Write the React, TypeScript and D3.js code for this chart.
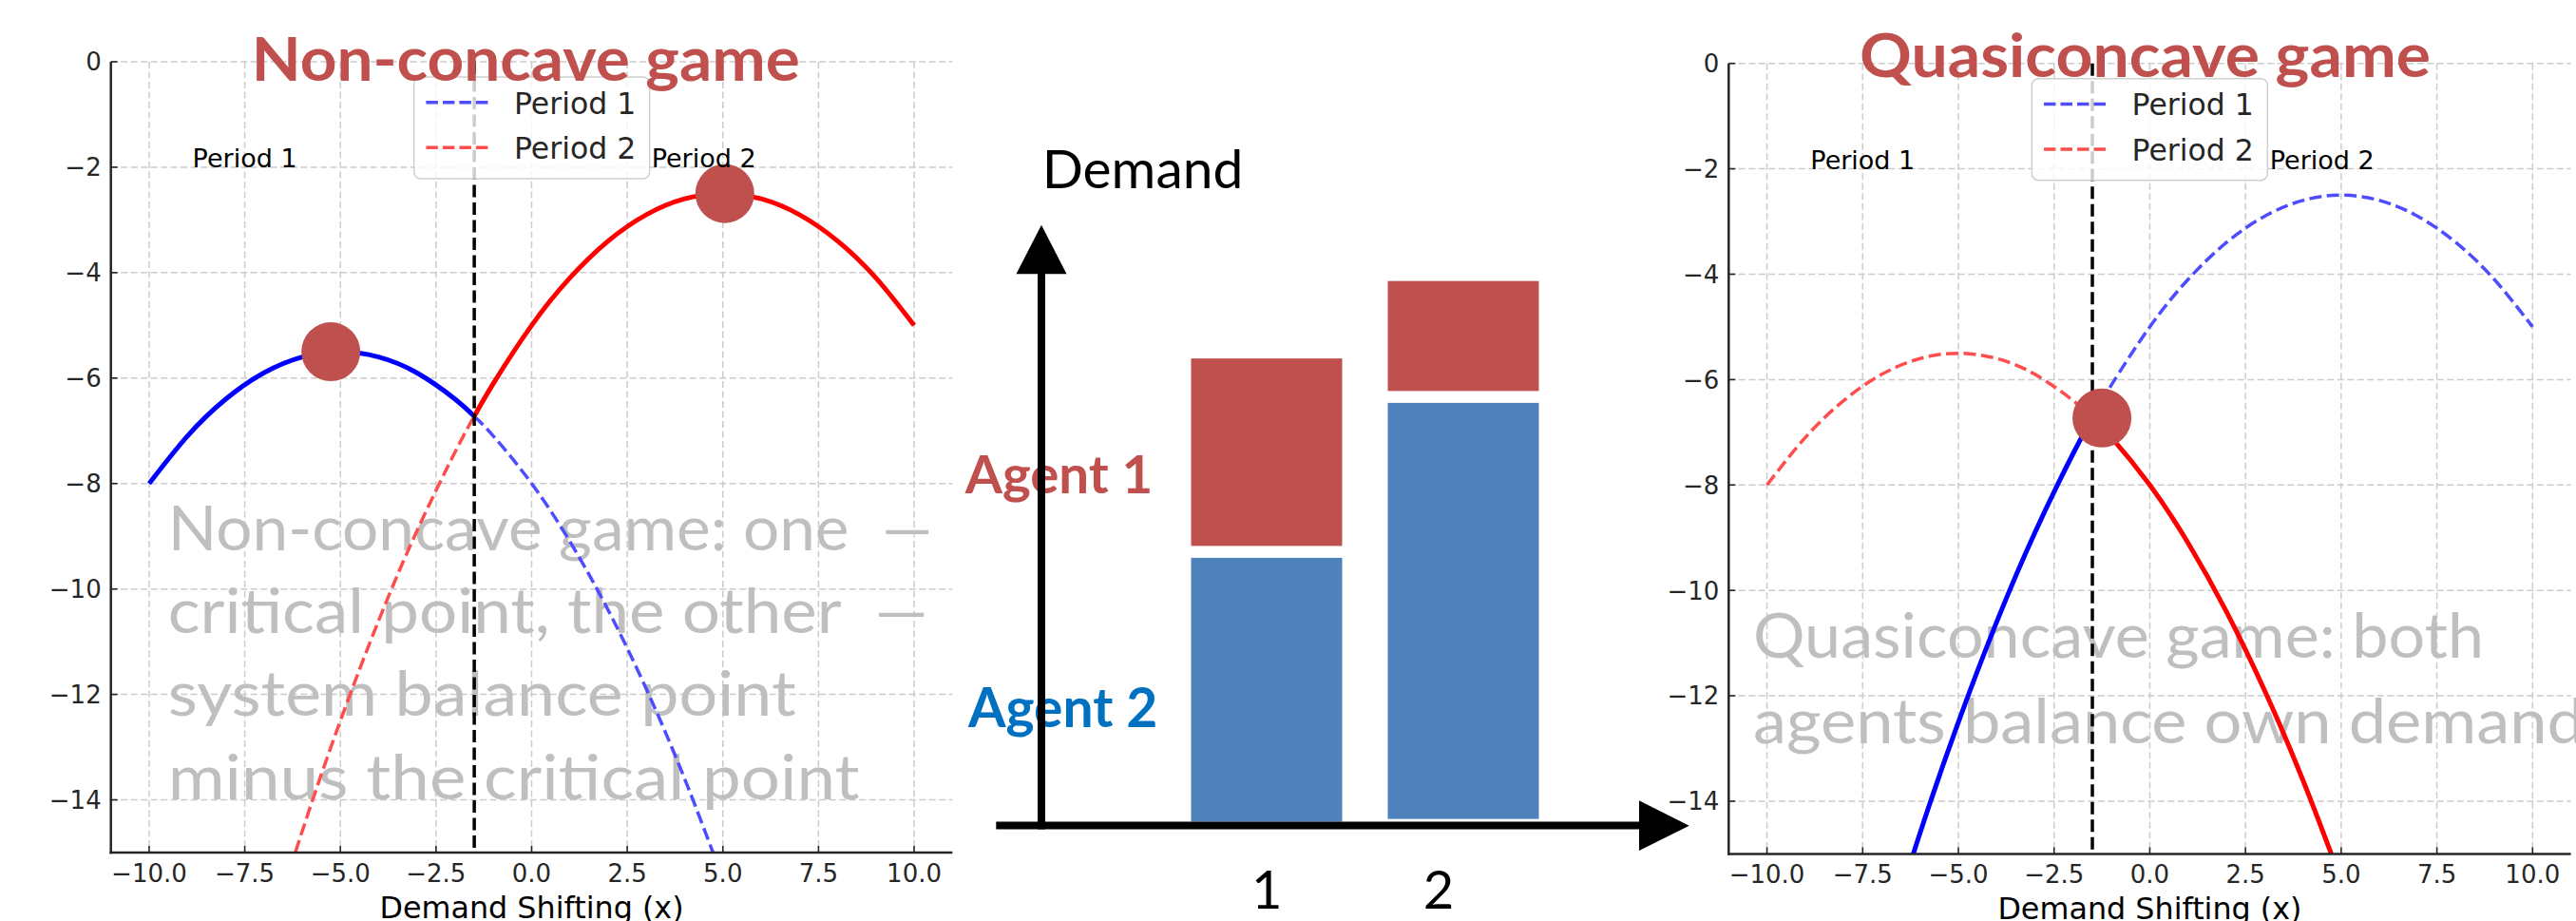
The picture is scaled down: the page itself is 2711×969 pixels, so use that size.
import React from "react";
import * as d3 from "d3";

// ---------- data ----------
const xTicks = [-10, -7.5, -5, -2.5, 0, 2.5, 5, 7.5, 10];
const xTickLabels = ["−10.0", "−7.5", "−5.0", "−2.5", "0.0", "2.5", "5.0", "7.5", "10.0"];
const yTicks = [0, -2, -4, -6, -8, -10, -12, -14];
const yTickLabels = ["0", "−2", "−4", "−6", "−8", "−10", "−12", "−14"];
const xDomain = [-11, 11];
const yDomain = [-15, 0];

// curve A: peak (-5, -5.5); curve B: peak (5, -2.5)
const curveAX = [-10, -9, -8, -7, -6, -5, -4, -3, -2, -1.5, -1, 0, 1, 2, 3, 4, 5];
const curveAY = [-8.0, -7.1, -6.4, -5.9, -5.6, -5.5, -5.6, -5.9, -6.4, -6.725, -7.1, -8.0, -9.1, -10.4, -11.9, -13.6, -15.5];
const curveBX = [-7, -6, -5, -4, -3, -2, -1.5, -1, 0, 1, 2, 3, 4, 5, 6, 7, 8, 9, 10];
const curveBY = [-16.9, -14.6, -12.5, -10.6, -8.9, -7.4, -6.725, -6.1, -5.0, -4.1, -3.4, -2.9, -2.6, -2.5, -2.6, -2.9, -3.4, -4.1, -5.0];
const splitX = -1.5;

const leftDotsX = [-5.25, 5.05];
const leftDotsY = [-5.5, -2.5];
const rightDotsX = [-1.25];
const rightDotsY = [-6.73];

const periodLabels = ["Period 1", "Period 2"];
const periodLabelX = [-7.5, 4.5];
const periodLabelY = [-2, -2];
const legendLabels = ["Period 1", "Period 2"];

const leftNote = ["Non-concave game: one  —", "critical point, the other  —", "system balance point", "minus the critical point"];
const rightNote = ["Quasiconcave game: both", "agents balance own demand"];

// middle panel (stacked demand)
const periods = ["1", "2"];
const agent2Demand = [4.87, 7.68];
const agent1Demand = [3.46, 2.03];
const barBase = [0, 0.05];
const stackGap = 0.22;

// ---------- styles ----------
const BLUE = "#0000ff";
const RED = "#ff0000";
const BLUE_D = "#4d4dff";
const RED_D = "#ff4d4d";
const DOT = "#c0504d";
const TITLE = "#c0504d";
const BAR_RED = "#c0504d";
const BAR_BLUE = "#4f81bd";
const AG2 = "#0070c0";
const GRAY = "#bfbfbf";
const MPL = "'DejaVu Sans', sans-serif";
const OFFICE = "Lato, 'Open Sans', sans-serif";

type Frame = { x0: number; x1: number; y0: number; y1: number };

function segment(xs: number[], ys: number[], side: "left" | "right") {
  const pts: [number, number][] = [];
  xs.forEach((x, i) => {
    if ((side === "left" && x <= splitX) || (side === "right" && x >= splitX)) pts.push([x, ys[i]]);
  });
  return pts;
}

function Panel(props: {
  id: string;
  f: Frame;
  colA: string; colAd: string; solidA: "left" | "right";
  colB: string; colBd: string; solidB: "left" | "right";
  dotsX: number[]; dotsY: number[];
  title: string; titleX: number; titleY: number; titleLen: number;
  note: string[]; noteX: number; noteY: number[]; noteLen: number[];
}) {
  const { f } = props;
  const x = d3.scaleLinear().domain(xDomain).range([f.x0, f.x1]);
  const y = d3.scaleLinear().domain(yDomain).range([f.y1, f.y0]);
  const line = d3.line<[number, number]>().x((d) => x(d[0])).y((d) => y(d[1])).curve(d3.curveNatural);
  const other = (s: "left" | "right") => (s === "left" ? "right" : "left");
  const dash = "13,5.5";
  const lx = f.x0 + 319;
  const ly = f.y0 + 16;
  return (
    <g>
      <defs>
        <clipPath id={props.id}>
          <rect x={f.x0} y={f.y0} width={f.x1 - f.x0} height={f.y1 - f.y0} />
        </clipPath>
      </defs>
      {/* grid */}
      <g stroke="#c4c4c4" strokeWidth={1.5} strokeDasharray="7,3.5" opacity={0.85}>
        {xTicks.map((t) => (
          <line key={"gx" + t} x1={x(t)} x2={x(t)} y1={f.y0} y2={f.y1} />
        ))}
        {yTicks.map((t) => (
          <line key={"gy" + t} x1={f.x0} x2={f.x1} y1={y(t)} y2={y(t)} />
        ))}
      </g>
      {/* gray note */}
      <g fill={GRAY} fontFamily={OFFICE} fontSize={66}>
        {props.note.map((s, i) => (
          <text key={i} x={props.noteX} y={props.noteY[i]} xmlSpace="preserve" textLength={props.noteLen[i]} lengthAdjust="spacingAndGlyphs">
            {s}
          </text>
        ))}
      </g>
      {/* curves */}
      <g clipPath={`url(#${props.id})`} fill="none">
        <path d={line(segment(curveAX, curveAY, props.solidA)) || ""} stroke={props.colA} strokeWidth={5} />
        <path d={line(segment(curveAX, curveAY, other(props.solidA))) || ""} stroke={props.colAd} strokeWidth={3.5} strokeDasharray={dash} />
        <path d={line(segment(curveBX, curveBY, props.solidB)) || ""} stroke={props.colB} strokeWidth={5} />
        <path d={line(segment(curveBX, curveBY, other(props.solidB))) || ""} stroke={props.colBd} strokeWidth={3.5} strokeDasharray={dash} />
        <line x1={x(splitX)} x2={x(splitX)} y1={f.y0} y2={f.y1} stroke="#000" strokeWidth={3.5} strokeDasharray={dash} />
      </g>
      {/* dots */}
      {props.dotsX.map((d, i) => (
        <circle key={i} cx={x(d)} cy={y(props.dotsY[i])} r={31} fill={DOT} />
      ))}
      {/* period annotations */}
      <g fontFamily={MPL} fontSize={27} fill="#000" textAnchor="middle">
        {periodLabels.map((s, i) => (
          <text key={s} x={x(periodLabelX[i])} y={y(periodLabelY[i])}>
            {s}
          </text>
        ))}
      </g>
      {/* legend */}
      <g>
        <rect x={lx} y={ly} width={248} height={107} rx={7} fill="#fff" fillOpacity={0.8} stroke="#d0d0d0" strokeWidth={1.5} />
        {legendLabels.map((s, i) => (
          <g key={s}>
            <line x1={lx + 12.7} x2={lx + 77.7} y1={ly + 26.7 + i * 47.5} y2={ly + 26.7 + i * 47.5} stroke={i === 0 ? BLUE_D : RED_D} strokeWidth={3.5} strokeDasharray="12.5,5" />
            <text x={lx + 105.3} y={ly + 38.5 + i * 47.5} fontFamily={MPL} fontSize={31.5} fill="#262626">
              {s}
            </text>
          </g>
        ))}
      </g>
      {/* axes */}
      <g stroke="#262626" strokeWidth={2.5}>
        <line x1={f.x0} x2={f.x0} y1={f.y0} y2={f.y1 + 1.25} />
        <line x1={f.x0 - 1.25} x2={f.x1} y1={f.y1} y2={f.y1} />
      </g>
      <g stroke="#262626" strokeWidth={1.6}>
        {xTicks.map((t) => (
          <line key={"tx" + t} x1={x(t)} x2={x(t)} y1={f.y1} y2={f.y1 - 7} />
        ))}
        {yTicks.map((t) => (
          <line key={"ty" + t} x1={f.x0} x2={f.x0 + 7} y1={y(t)} y2={y(t)} />
        ))}
      </g>
      <g fontFamily={MPL} fontSize={26} fill="#262626">
        {xTicks.map((t, i) => (
          <text key={"lx" + t} x={x(t)} y={f.y1 + 31} textAnchor="middle">
            {xTickLabels[i]}
          </text>
        ))}
        {yTicks.map((t, i) => (
          <text key={"ly" + t} x={f.x0 - 10} y={y(t)} dy="0.36em" textAnchor="end">
            {yTickLabels[i]}
          </text>
        ))}
      </g>
      <text x={(f.x0 + f.x1) / 2} y={f.y1 + 69} textAnchor="middle" fontFamily={MPL} fontSize={31.8} fill="#000">
        Demand Shifting (x)
      </text>
      {/* title */}
      <text x={props.titleX} y={props.titleY} fontFamily={OFFICE} fontWeight={700} fontSize={64} fill={TITLE} textLength={props.titleLen} lengthAdjust="spacingAndGlyphs">
        {props.title}
      </text>
    </g>
  );
}

function Middle() {
  const y = d3.scaleLinear().domain([0, 10]).range([864.5, 294.5]);
  const xc = d3.scalePoint<string>().domain(periods).range([1333, 1540]);
  const xl = d3.scalePoint<string>().domain(periods).range([1333.3, 1514]);
  const bw = 159;
  return (
    <g>
      <text x={1096.7} y={198.3} fontFamily={OFFICE} fontSize={56} fill="#000" textLength={211.6} lengthAdjust="spacingAndGlyphs">
        Demand
      </text>
      <text x={1015.7} y={519.3} fontFamily={OFFICE} fontWeight={700} fontSize={55} fill={BAR_RED} textLength={197.6} lengthAdjust="spacingAndGlyphs">
        Agent 1
      </text>
      <text x={1019} y={765} fontFamily={OFFICE} fontWeight={700} fontSize={57} fill={AG2} textLength={199.3} lengthAdjust="spacingAndGlyphs">
        Agent 2
      </text>
      {periods.map((p, i) => {
        const b0 = barBase[i];
        const b1 = b0 + agent2Demand[i];
        const r0 = b1 + stackGap;
        const r1 = r0 + agent1Demand[i];
        const cx = xc(p) as number;
        return (
          <g key={p}>
            <rect x={cx - bw / 2} y={y(b1)} width={bw} height={y(b0) - y(b1)} fill={BAR_BLUE} />
            <rect x={cx - bw / 2} y={y(r1)} width={bw} height={y(r0) - y(r1)} fill={BAR_RED} />
            <text x={xl(p) as number} y={956} textAnchor="middle" fontFamily={OFFICE} fontSize={56} fill="#000">
              {p}
            </text>
          </g>
        );
      })}
      {/* axes arrows */}
      <line x1={1096} x2={1096} y1={872.5} y2={286} stroke="#000" strokeWidth={8} />
      <polygon points="1069.5,288.3 1122.5,288.3 1096,236.7" fill="#000" />
      <line x1={1048.3} x2={1727} y1={868.5} y2={868.5} stroke="#000" strokeWidth={8} />
      <polygon points="1725,842.3 1725,895 1777.7,868.7" fill="#000" />
    </g>
  );
}

export default function App() {
  return (
    <svg
      width={2711}
      height={969}
      viewBox="0 0 2711 969"
      style={{ position: "absolute", left: 0, top: 0, display: "block", background: "#fff" }}
    >
      <rect width={2711} height={969} fill="#fff" />
      <Panel
        id="clipL"
        f={{ x0: 116.7, x1: 1002.3, y0: 65, y1: 897 }}
        colA={BLUE} colAd={BLUE_D} solidA="left"
        colB={RED} colBd={RED_D} solidB="right"
        dotsX={leftDotsX} dotsY={leftDotsY}
        title="Non-concave game" titleX={264.7} titleY={85} titleLen={577}
        note={leftNote} noteX={176.7} noteY={[579, 666, 753, 841]} noteLen={[805, 800, 661, 728]}
      />
      <Middle />
      <Panel
        id="clipR"
        f={{ x0: 1819.3, x1: 2705.6, y0: 66.7, y1: 898.4 }}
        colA={RED} colAd={RED_D} solidA="right"
        colB={BLUE} colBd={BLUE_D} solidB="left"
        dotsX={rightDotsX} dotsY={rightDotsY}
        title="Quasiconcave game" titleX={1957} titleY={81} titleLen={601}
        note={rightNote} noteX={1845} noteY={[692, 782]} noteLen={[769, 875]}
      />
    </svg>
  );
}
